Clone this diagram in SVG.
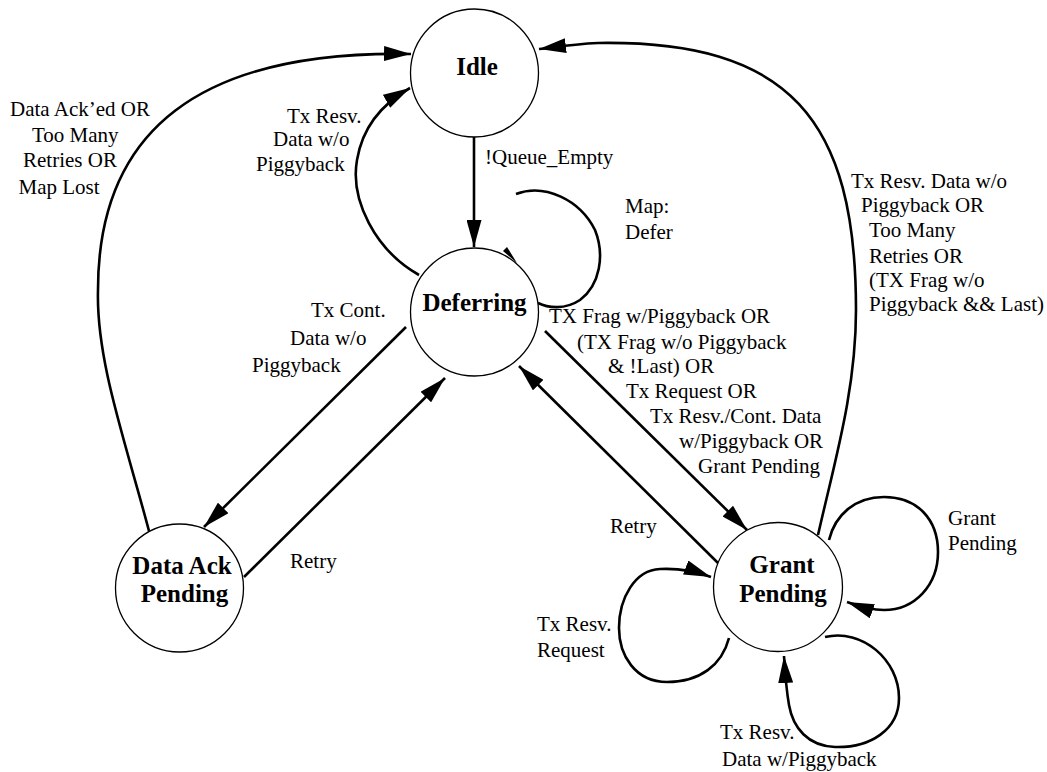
<svg xmlns="http://www.w3.org/2000/svg" width="1047" height="772" viewBox="0 0 1047 772">
<style>
.node circle{fill:#fff;stroke:#000;stroke-width:1.3}
.node text{font-family:"Liberation Serif","Times New Roman",serif;font-size:25px;font-weight:bold;text-anchor:middle;fill:#000}
.edge{fill:none;stroke:#000;stroke-width:2.6}
.arr{marker-end:url(#ah)}
.lbl{font-family:"Liberation Serif","Times New Roman",serif;font-size:21px;fill:#000}
</style>
<defs>
<marker id="ah" viewBox="0 0 27 15" refX="27" refY="7.5" markerWidth="27" markerHeight="15" markerUnits="userSpaceOnUse" orient="auto"><path d="M0,0 L27,7.5 L0,15 z" fill="#000"/></marker>
</defs>
<rect width="1047" height="772" fill="#fff"/>
<g id="connectors">
<path class="edge arr" d="M149,531 C125,440 96,360 98,290 C98,130 200,50 411,54"/>
<path class="edge arr" d="M419,275 C375,250 350,200 357,160 C362,130 380,105 410,88"/>
<path class="edge arr" d="M474,137 L474,247"/>
<path class="edge arr" d="M818,535 C835,460 856,390 856,310 C856,120 790,40 598,43 C575,44 555,47 539,49"/>
<path class="edge" d="M538,303 C548,308 565,310 580,300 C600,285 605,255 595,230 C580,200 545,183 516,194"/>
<polygon points="503,251 507,247 517,263" fill="#000"/>
<path class="edge arr" d="M406,327 L204,527"/>
<path class="edge arr" d="M244,577 L445,378"/>
<path class="edge arr" d="M545,331 L747,530"/>
<path class="edge arr" d="M718,563 L519,366"/>
<path class="edge arr" d="M729,638 C722,665 700,682 667,682 C635,682 619,655 619,628 C619,598 635,570 660,569 C680,568 695,571 711,577"/>
<path class="edge arr" d="M829,540 C835,515 855,497 884,497 C918,497 938,520 938,552 C938,585 915,610 884,610 C870,610 858,606 847,602"/>
<path class="edge arr" d="M825,637 C862,628 899,660 899,698 C899,730 870,748 835,747 C808,746 793,728 789,705 C786,688 785,672 784,656"/>
</g>
<g id="edge-labels" class="lbl">
<text x="10" y="116">Data Ack’ed OR</text>
<text x="32" y="142">Too Many</text>
<text x="23" y="167">Retries OR</text>
<text x="18.5" y="194">Map Lost</text>
<text x="287" y="123">Tx Resv.</text>
<text x="273" y="146">Data w/o</text>
<text x="256" y="171">Piggyback</text>
<text x="485" y="164">!Queue_Empty</text>
<text x="625" y="213">Map:</text>
<text x="625" y="239">Defer</text>
<text x="851" y="188">Tx Resv. Data w/o</text>
<text x="861" y="212">Piggyback OR</text>
<text x="869" y="237">Too Many</text>
<text x="869" y="263">Retries OR</text>
<text x="869" y="287">(TX Frag w/o</text>
<text x="869" y="311">Piggyback &amp;&amp; Last)</text>
<text x="311" y="317">Tx Cont.</text>
<text x="290" y="345">Data w/o</text>
<text x="252" y="372">Piggyback</text>
<text x="549" y="323">TX Frag w/Piggyback OR</text>
<text x="577" y="349">(TX Frag w/o Piggyback</text>
<text x="608" y="373">&amp; !Last) OR</text>
<text x="626" y="398">Tx Request OR</text>
<text x="650" y="423">Tx Resv./Cont. Data</text>
<text x="679" y="448">w/Piggyback OR</text>
<text x="698" y="473">Grant Pending</text>
<text x="290" y="568">Retry</text>
<text x="610" y="533">Retry</text>
<text x="948" y="525">Grant</text>
<text x="948" y="550">Pending</text>
<text x="537" y="631">Tx Resv.</text>
<text x="537" y="657">Request</text>
<text x="720" y="739">Tx Resv.</text>
<text x="722" y="766">Data w/Piggyback</text>
</g>
<g id="idle" class="node">
<circle cx="474.5" cy="73" r="64"/>
<text x="477" y="75">Idle</text>
</g>
<g id="deferring" class="node">
<circle cx="474.5" cy="312" r="64"/>
<text x="474.5" y="311">Deferring</text>
</g>
<g id="data-ack-pending" class="node">
<circle cx="179.5" cy="588" r="64"/>
<text x="182" y="574">Data Ack</text>
<text x="184.5" y="602">Pending</text>
</g>
<g id="grant-pending" class="node">
<circle cx="778" cy="587" r="64.5"/>
<text x="782" y="573">Grant</text>
<text x="783" y="602">Pending</text>
</g>
</svg>
